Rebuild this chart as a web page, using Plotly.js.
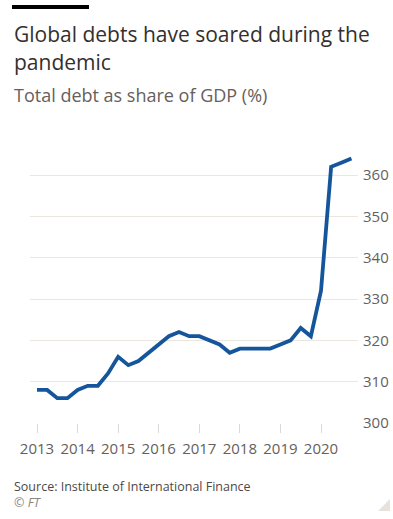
<!DOCTYPE html>
<html>
<head>
<meta charset="utf-8">
<script src="https://cdn.plot.ly/plotly-3.0.1.min.js"></script>
<style>
html,body{margin:0;padding:0;background:#fff;}
#chart{width:393px;height:519px;}
</style>
</head>
<body>
<div id="chart"></div>
<script>
// Quarterly periods (year + quarter offset), 2013 Q1 .. 2020 Q4
var periods = [2013, 2013.25, 2013.5, 2013.75,
               2014, 2014.25, 2014.5, 2014.75,
               2015, 2015.25, 2015.5, 2015.75,
               2016, 2016.25, 2016.5, 2016.75,
               2017, 2017.25, 2017.5, 2017.75,
               2018, 2018.25, 2018.5, 2018.75,
               2019, 2019.25, 2019.5, 2019.75,
               2020, 2020.25, 2020.5, 2020.75];
var debtShare = [308, 308, 306, 306,
                 308, 309, 309, 312,
                 316, 314, 315, 317,
                 319, 321, 322, 321,
                 321, 320, 319, 317,
                 318, 318, 318, 318,
                 319, 320, 323, 321,
                 332, 362, 363, 364];
var yearTicks = [2013, 2014, 2015, 2016, 2017, 2018, 2019, 2020];
var yearLabels = ["2013", "2014", "2015", "2016", "2017", "2018", "2019", "2020"];
var yTicks = [300, 310, 320, 330, 340, 350, 360];

var FONT = "Open Sans, Lato, sans-serif";

var trace = {
  x: periods,
  y: debtShare,
  type: "scatter",
  mode: "lines",
  line: {color: "#14559b", width: 3.8},
  hoverinfo: "skip"
};

var layout = {
  width: 393,
  height: 519,
  paper_bgcolor: "#ffffff",
  plot_bgcolor: "#ffffff",
  margin: {l: 30, r: 35, t: 142, b: 96},
  showlegend: false,
  font: {family: FONT, color: "#66605c"},
  xaxis: {
    range: [2012.827, 2020.912],
    tickvals: yearTicks,
    ticktext: yearLabels,
    ticks: "outside",
    ticklen: 9,
    tickwidth: 1,
    tickcolor: "#ded8d3",
    showgrid: false,
    zeroline: false,
    showline: false,
    ticklabelstandoff: 3,
    tickfont: {size: 15, color: "#66605c", family: FONT},
    fixedrange: true
  },
  yaxis: {
    range: [300, 368],
    side: "right",
    tickvals: yTicks,
    ticks: "",
    showgrid: true,
    gridcolor: "#ece6e1",
    gridwidth: 1,
    zeroline: false,
    showline: false,
    ticklabelstandoff: 4,
    tickfont: {size: 15, color: "#66605c", family: FONT},
    fixedrange: true
  },
  shapes: [
    {type: "rect", xref: "paper", yref: "paper",
     x0: (12 - 30) / 328, x1: (89 - 30) / 328,
     y0: (423 - 9) / 281, y1: (423 - 5) / 281,
     fillcolor: "#000000", line: {width: 0}},
    {type: "path", xref: "paper", yref: "paper",
     path: "M " + ((390 - 30) / 328) + " " + ((423 - 499) / 281) +
           " L " + ((390 - 30) / 328) + " " + ((423 - 511) / 281) +
           " L " + ((378 - 30) / 328) + " " + ((423 - 511) / 281) + " Z",
     fillcolor: "#e8e2dc", line: {width: 0}}
  ],
  annotations: [
    {text: "Global debts have soared during the", xref: "paper", yref: "paper",
     x: (12 - 30) / 328, y: (423 - 34) / 281, xanchor: "left", yanchor: "middle",
     showarrow: false, font: {size: 21, color: "#33302e", family: FONT}},
    {text: "pandemic", xref: "paper", yref: "paper",
     x: (12 - 30) / 328, y: (423 - 62) / 281, xanchor: "left", yanchor: "middle",
     showarrow: false, font: {size: 21, color: "#33302e", family: FONT}},
    {text: "Total debt as share of GDP (%)", xref: "paper", yref: "paper",
     x: (12 - 30) / 328, y: (423 - 95) / 281, xanchor: "left", yanchor: "middle",
     showarrow: false, font: {size: 18, color: "#66605c", family: FONT}},
    {text: "Source: Institute of International Finance<br><span style=\"color:#8a837f\"><i>© FT</i></span>",
     xref: "paper", yref: "paper", align: "left",
     x: (12 - 30) / 328, y: (423 - 494) / 281, xanchor: "left", yanchor: "middle",
     showarrow: false, font: {size: 12.5, color: "#4d4845", family: FONT}}
  ]
};

Plotly.newPlot("chart", [trace], layout, {displayModeBar: false, staticPlot: true});
</script>
</body>
</html>
